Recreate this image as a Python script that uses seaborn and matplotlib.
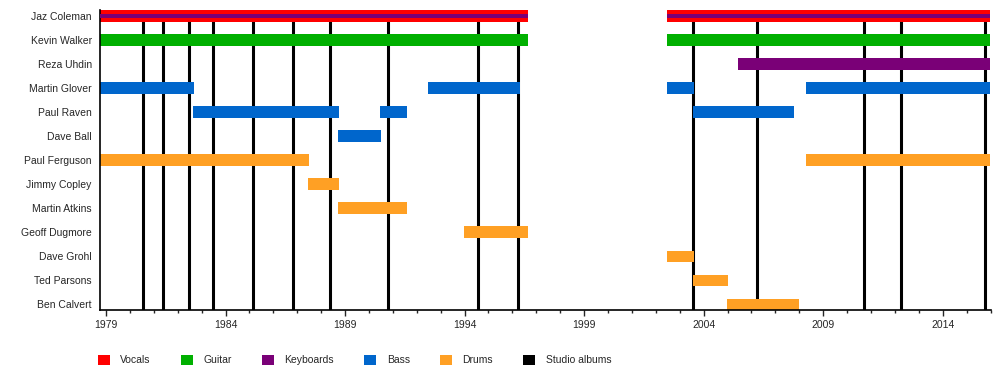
import pandas as pd
import matplotlib.pyplot as plt
import seaborn as sns
from matplotlib.patches import Patch
from matplotlib.ticker import MultipleLocator, FixedLocator

sns.set_style('white')
plt.rcParams['font.family'] = ['Liberation Sans', 'DejaVu Sans']

# Miembros (de arriba a abajo)
members = ['Jaz Coleman', 'Kevin Walker', 'Reza Uhdin', 'Martin Glover', 'Paul Raven',
           'Dave Ball', 'Paul Ferguson', 'Jimmy Copley', 'Martin Atkins', 'Geoff Dugmore',
           'Dave Grohl', 'Ted Parsons', 'Ben Calvert']

# Periodos de cada miembro
seg_member = ['Jaz Coleman', 'Jaz Coleman', 'Jaz Coleman', 'Jaz Coleman',
              'Kevin Walker', 'Kevin Walker',
              'Reza Uhdin',
              'Martin Glover', 'Martin Glover', 'Martin Glover', 'Martin Glover',
              'Paul Raven', 'Paul Raven', 'Paul Raven',
              'Dave Ball',
              'Paul Ferguson', 'Paul Ferguson',
              'Jimmy Copley', 'Martin Atkins', 'Geoff Dugmore',
              'Dave Grohl', 'Ted Parsons', 'Ben Calvert']
seg_role = ['Vocals', 'Vocals', 'Keyboards', 'Keyboards',
            'Guitar', 'Guitar',
            'Keyboards',
            'Bass', 'Bass', 'Bass', 'Bass',
            'Bass', 'Bass', 'Bass',
            'Bass',
            'Drums', 'Drums',
            'Drums', 'Drums', 'Drums',
            'Drums', 'Drums', 'Drums']
seg_start = [1978.75, 2002.47, 1978.75, 2002.47,
             1978.75, 2002.47,
             2005.43,
             1978.75, 1992.47, 2002.47, 2008.28,
             1982.64, 1990.46, 2003.55,
             1988.70,
             1978.75, 2008.28,
             1987.45, 1988.70, 1993.98,
             2002.47, 2003.55, 2004.98]
seg_end = [1996.66, 2016.0, 1996.66, 2016.0,
           1996.66, 2016.0,
           2016.0,
           1982.67, 1996.31, 2003.59, 2016.0,
           1988.75, 1991.59, 2007.78,
           1990.50,
           1987.49, 2016.0,
           1988.75, 1991.59, 1996.66,
           2003.59, 2005.00, 2007.99]

# Albumes de estudio
albums = [1980.56, 1981.40, 1982.48, 1983.49, 1985.16, 1986.83, 1988.37, 1990.81,
          1994.57, 1996.25, 2003.54, 2006.24, 2010.71, 2012.24, 2015.78]

roles = ['Vocals', 'Guitar', 'Keyboards', 'Bass', 'Drums', 'Studio albums']
colores = {'Vocals': '#FF0000', 'Guitar': '#00B000', 'Keyboards': '#7A0077',
           'Bass': '#0066CC', 'Drums': '#FFA024', 'Studio albums': '#000000'}

df = pd.DataFrame({'member': seg_member, 'role': seg_role,
                   'start': seg_start, 'end': seg_end})
df['row'] = df['member'].map({m: i for i, m in enumerate(members)})

fig = plt.figure(figsize=(10, 3.9), dpi=100)
ax = fig.add_axes([0.1, 1 - 310 / 390, 0.8905, 300 / 390])

for a in albums:
    ax.axvline(a, color='black', lw=2.2, zorder=1)

for _, r in df.iterrows():
    # Jaz Coleman toca teclados: barra fina sobre la voz
    fino = r['role'] == 'Keyboards' and r['member'] == 'Jaz Coleman'
    ax.barh(r['row'], r['end'] - r['start'], left=r['start'],
            height=0.17 if fino else 0.487, color=colores[r['role']],
            linewidth=0, zorder=3 if fino else 2)

ax.set_xlim(1978.75, 2016.0)
ax.set_ylim(12.23, -0.245)
ax.set_yticks(range(len(members)))
ax.set_yticklabels(members)
ax.xaxis.set_major_locator(FixedLocator(list(range(1979, 2016, 5))))
ax.xaxis.set_minor_locator(MultipleLocator(1))
ax.tick_params(axis='x', which='major', length=4, width=1, pad=3.5, labelsize=7.5,
               bottom=True, direction='out')
ax.tick_params(axis='x', which='minor', length=2.2, width=1, bottom=True, direction='out')
ax.tick_params(axis='y', length=0, pad=6, labelsize=7.5)
for s in ['top', 'right']:
    ax.spines[s].set_visible(False)
for s in ['left', 'bottom']:
    ax.spines[s].set_color('black')
    ax.spines[s].set_linewidth(1.2)

handles = [Patch(facecolor=colores[r], edgecolor='none', label=r) for r in roles]
fig.legend(handles=handles, loc='center left', bbox_to_anchor=(0.098, 1 - 360 / 390),
           ncol=6, frameon=False, fontsize=7.5, handlelength=1.15, handleheight=1.15,
           handletextpad=1.0, columnspacing=2.9, borderpad=0, borderaxespad=0)

fig.savefig('out.png', dpi=100)
